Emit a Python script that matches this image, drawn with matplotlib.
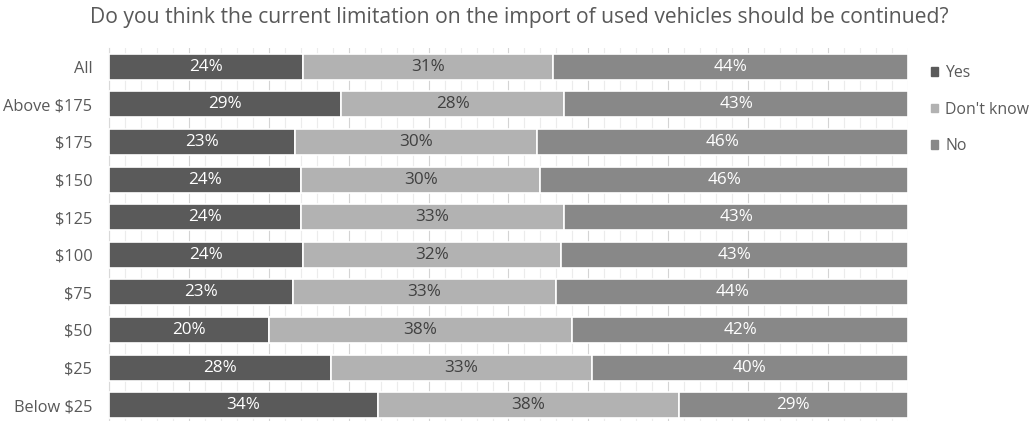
import numpy as np
import matplotlib.pyplot as plt
from matplotlib.patches import Patch

plt.rcParams["font.family"] = ["Open Sans", "DejaVu Sans"]

TITLE = "Do you think the current limitation on the import of used vehicles should be continued?"
categories = ["All", "Above $175", "$175", "$150", "$125", "$100", "$75", "$50", "$25", "Below $25"]
yes = [24, 29, 23, 24, 24, 24, 23, 20, 28, 34]
dont_know = [31, 28, 30, 30, 33, 32, 33, 38, 33, 38]
no = [44, 43, 46, 46, 43, 43, 44, 42, 40, 29]

series = [
    ("Yes", yes, "#5a5a5a", "white"),
    ("Don't know", dont_know, "#b2b2b2", "#404040"),
    ("No", no, "#888888", "white"),
]

totals = np.array(yes) + np.array(dont_know) + np.array(no)

fig = plt.figure(figsize=(10.33, 4.21), dpi=100)
ax = fig.add_axes([109 / 1033, -3 / 421, 799 / 1033, 376 / 421])

y = np.arange(len(categories))
left = np.zeros(len(categories))
for name, vals, color, txt in series:
    share = np.array(vals) / totals * 100
    bars = ax.barh(y, share, left=left, height=0.69, color=color,
                   edgecolor="white", linewidth=1.2, label=name, zorder=3)
    for b, v in zip(bars, vals):
        ax.text(b.get_x() + b.get_width() / 2, b.get_y() + b.get_height() / 2,
                f"{v}%", ha="center", va="center", color=txt, fontsize=12.3, zorder=4)
    left += share

ax.set_xlim(0, 100)
ax.set_ylim(len(categories) - 0.5, -0.5)
ax.set_yticks(y)
ax.set_yticklabels(categories, fontsize=11.8, color="#595959")
ax.tick_params(axis="y", length=0, pad=12)
ax.set_xticks(np.arange(0, 101, 10))
ax.set_xticks(np.arange(0, 101, 2), minor=True)
ax.tick_params(axis="x", which="both", length=0, labelbottom=False)
ax.grid(axis="x", which="major", color="#d4d4d4", linewidth=0.8, zorder=0)
ax.grid(axis="x", which="minor", color="#ececec", linewidth=0.8, zorder=0)
for s in ["top", "right", "bottom"]:
    ax.spines[s].set_visible(False)
ax.spines["left"].set_color("#d9d9d9")

handles = [Patch(color=c, label=n) for n, _, c, _ in series]
leg = fig.legend(handles=handles, loc="upper left", bbox_to_anchor=(931 / 1033, 1 - 65 / 421),
                 frameon=False, fontsize=11.4, handlelength=0.45, handleheight=0.45,
                 handletextpad=0.45, labelspacing=1.3, borderaxespad=0, borderpad=0)
for t in leg.get_texts():
    t.set_color("#595959")

fig.text(519 / 1033, 1 - 18 / 421, TITLE, ha="center", va="center", fontsize=15.2, color="#595959")

fig.savefig("out.png", dpi=100)
